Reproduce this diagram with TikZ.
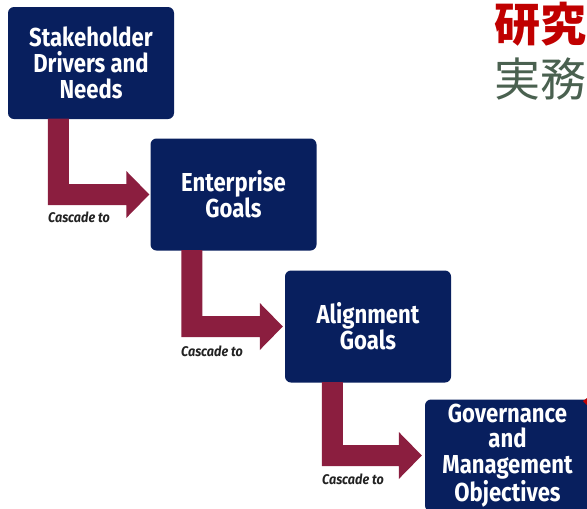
\documentclass[tikz,border=0pt]{standalone}
\usepackage{fontspec}
\usetikzlibrary{calc}
\newfontfamily\boxfont[FakeStretch=0.85]{Fira Sans}
\newfontfamily\labfont[FakeStretch=0.9]{Fira Sans}
\newfontfamily\cjk{Noto Sans CJK JP}
\definecolor{navy}{RGB}{8,31,94}
\definecolor{maroon}{RGB}{139,30,63}
\definecolor{redtxt}{RGB}{192,0,0}
\definecolor{greentxt}{RGB}{74,97,80}
\definecolor{labeltxt}{RGB}{34,34,34}
\tikzset{
  stepbox/.style={fill=navy, rounded corners=6pt, minimum width=166pt, minimum height=112pt,
    inner sep=0pt, text=white, align=center,
    font=\boxfont\bfseries\fontsize{26}{25.7}\selectfont},
  casc/.style={fill=maroon},
  casclabel/.style={anchor=west, inner sep=0pt, text=labeltxt,
    font=\labfont\bfseries\itshape\fontsize{14}{15}\selectfont}
}
\newcommand{\cascarrow}[4]{%
  \fill[casc] let \p1=(#1.south west), \p2=(#2.west) in
    (\x1+#3,\y1+0.5pt) -- (\x1+#3,\y2-10.5pt) -- (\x2-#4-23pt,\y2-10.5pt) -- (\x2-#4-23pt,\y2-23.5pt)
    -- (\x2-#4,\y2) -- (\x2-#4-23pt,\y2+23.5pt) -- (\x2-#4-23pt,\y2+10.5pt)
    -- (\x1+#3+21pt,\y2+10.5pt) -- (\x1+#3+21pt,\y1+0.5pt) -- cycle;
}
\begin{document}
\begin{tikzpicture}[x=1pt,y=-1pt]
\useasboundingbox (0,0) rectangle (587,509);
\node[stepbox] (b1) at (91,63) {Stakeholder\\Drivers and\\Needs};
\node[stepbox] (b2) at (233.5,194.5) {Enterprise\\Goals};
\node[stepbox] (b3) at (368,326.5) {Alignment\\Goals};
\node[stepbox, minimum width=165pt] (b4) at (507.5,455.5) {Governance\\and\\Management\\Objectives};
\cascarrow{b1}{b2}{40pt}{1pt}
\cascarrow{b2}{b3}{31pt}{2pt}
\cascarrow{b3}{b4}{37pt}{3pt}
\node[casclabel] (l1) at (48,217) {Cascade to};
\node[casclabel] (l2) at (181,351) {Cascade to};
\node[casclabel] (l3) at (322,479) {Cascade to};
\fill[redtxt] (583,401) -- (587,398) -- (587,405) -- cycle;
\node[anchor=west, inner sep=0pt, text=redtxt, font=\cjk\bfseries\fontsize{46}{46}\selectfont] (t1) at (494,24) {研究};
\node[anchor=west, inner sep=0pt, text=greentxt, font=\cjk\fontsize{46}{46}\selectfont] (t2) at (494,79) {実務};
\end{tikzpicture}
\end{document}
